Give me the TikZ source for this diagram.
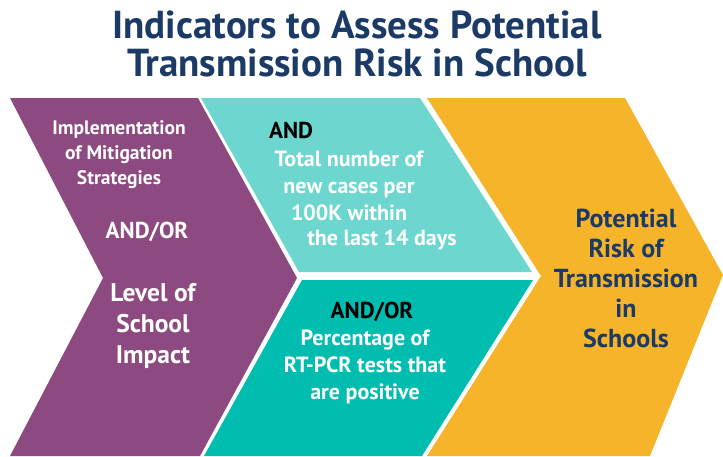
\documentclass[tikz,border=0pt]{standalone}
\usepackage{fontspec}
\setmainfont{PT Sans}
\definecolor{plum}{HTML}{8C4A80}
\definecolor{aqua}{HTML}{6DD6CF}
\definecolor{deepaqua}{HTML}{00BDB0}
\definecolor{amber}{HTML}{F5B42A}
\definecolor{navy}{HTML}{1B3A66}
\tikzset{
  lbl/.style={align=center, inner sep=0pt, text=white, font=\bfseries\fontsize{19.5}{25}\selectfont},
  biglbl/.style={lbl, font=\bfseries\fontsize{25.5}{31}\selectfont},
  andlbl/.style={lbl, text=black, font=\bfseries\fontsize{23}{26}\selectfont},
}
\begin{document}
\begin{tikzpicture}[x=1pt,y=-1pt]
\useasboundingbox (0,0) rectangle (723,456);
% the four bands
\fill[plum] (10,98) -- (198,98) -- (297,278) -- (200,456) -- (10,456) -- (103,278) -- cycle;
\fill[aqua] (201,98) -- (420,98) -- (532,272) -- (299,272) -- cycle;
\fill[deepaqua] (302,280) -- (533,280) -- (422,456) -- (204,456) -- cycle;
\fill[amber] (427,98) -- (625,98) -- (723,275) -- (650,456) -- (427,456) -- (541,276) -- cycle;
% title
\node[text=navy, align=center, inner sep=0pt, font=\bfseries\fontsize{39}{38}\selectfont] (title) at (357,44)
  {Indicators to Assess Potential\\Transmission Risk in School};
% purple band
\node[lbl] (mitig) at (119,155) {Implementation\\of Mitigation\\Strategies};
\node[andlbl, text=white] (andor1) at (147,232) {AND/OR};
\node[biglbl] (impact) at (153,326) {Level of\\School\\Impact};
% light aqua band
\node[andlbl, anchor=west] (and1) at (269,130) {AND};
\node[lbl, font=\bfseries\fontsize{22}{27}\selectfont] (cases) at (349,186)
  {Total number of\\new cases per\\100K within};
\node[lbl, font=\bfseries\fontsize{22}{27}\selectfont] (days) at (382,240) {the last 14 days};
% deep aqua band
\node[andlbl] (andor2) at (372,312) {AND/OR};
\node[lbl, font=\bfseries\fontsize{22}{27}\selectfont] (pcr) at (365,367) {Percentage of\\RT-PCR tests that\\are positive};
% amber band
\node[biglbl, text=navy, font=\bfseries\fontsize{26}{30}\selectfont] (risk) at (626,278)
  {Potential\\Risk of\\Transmission\\in\\Schools};
\end{tikzpicture}
\end{document}
